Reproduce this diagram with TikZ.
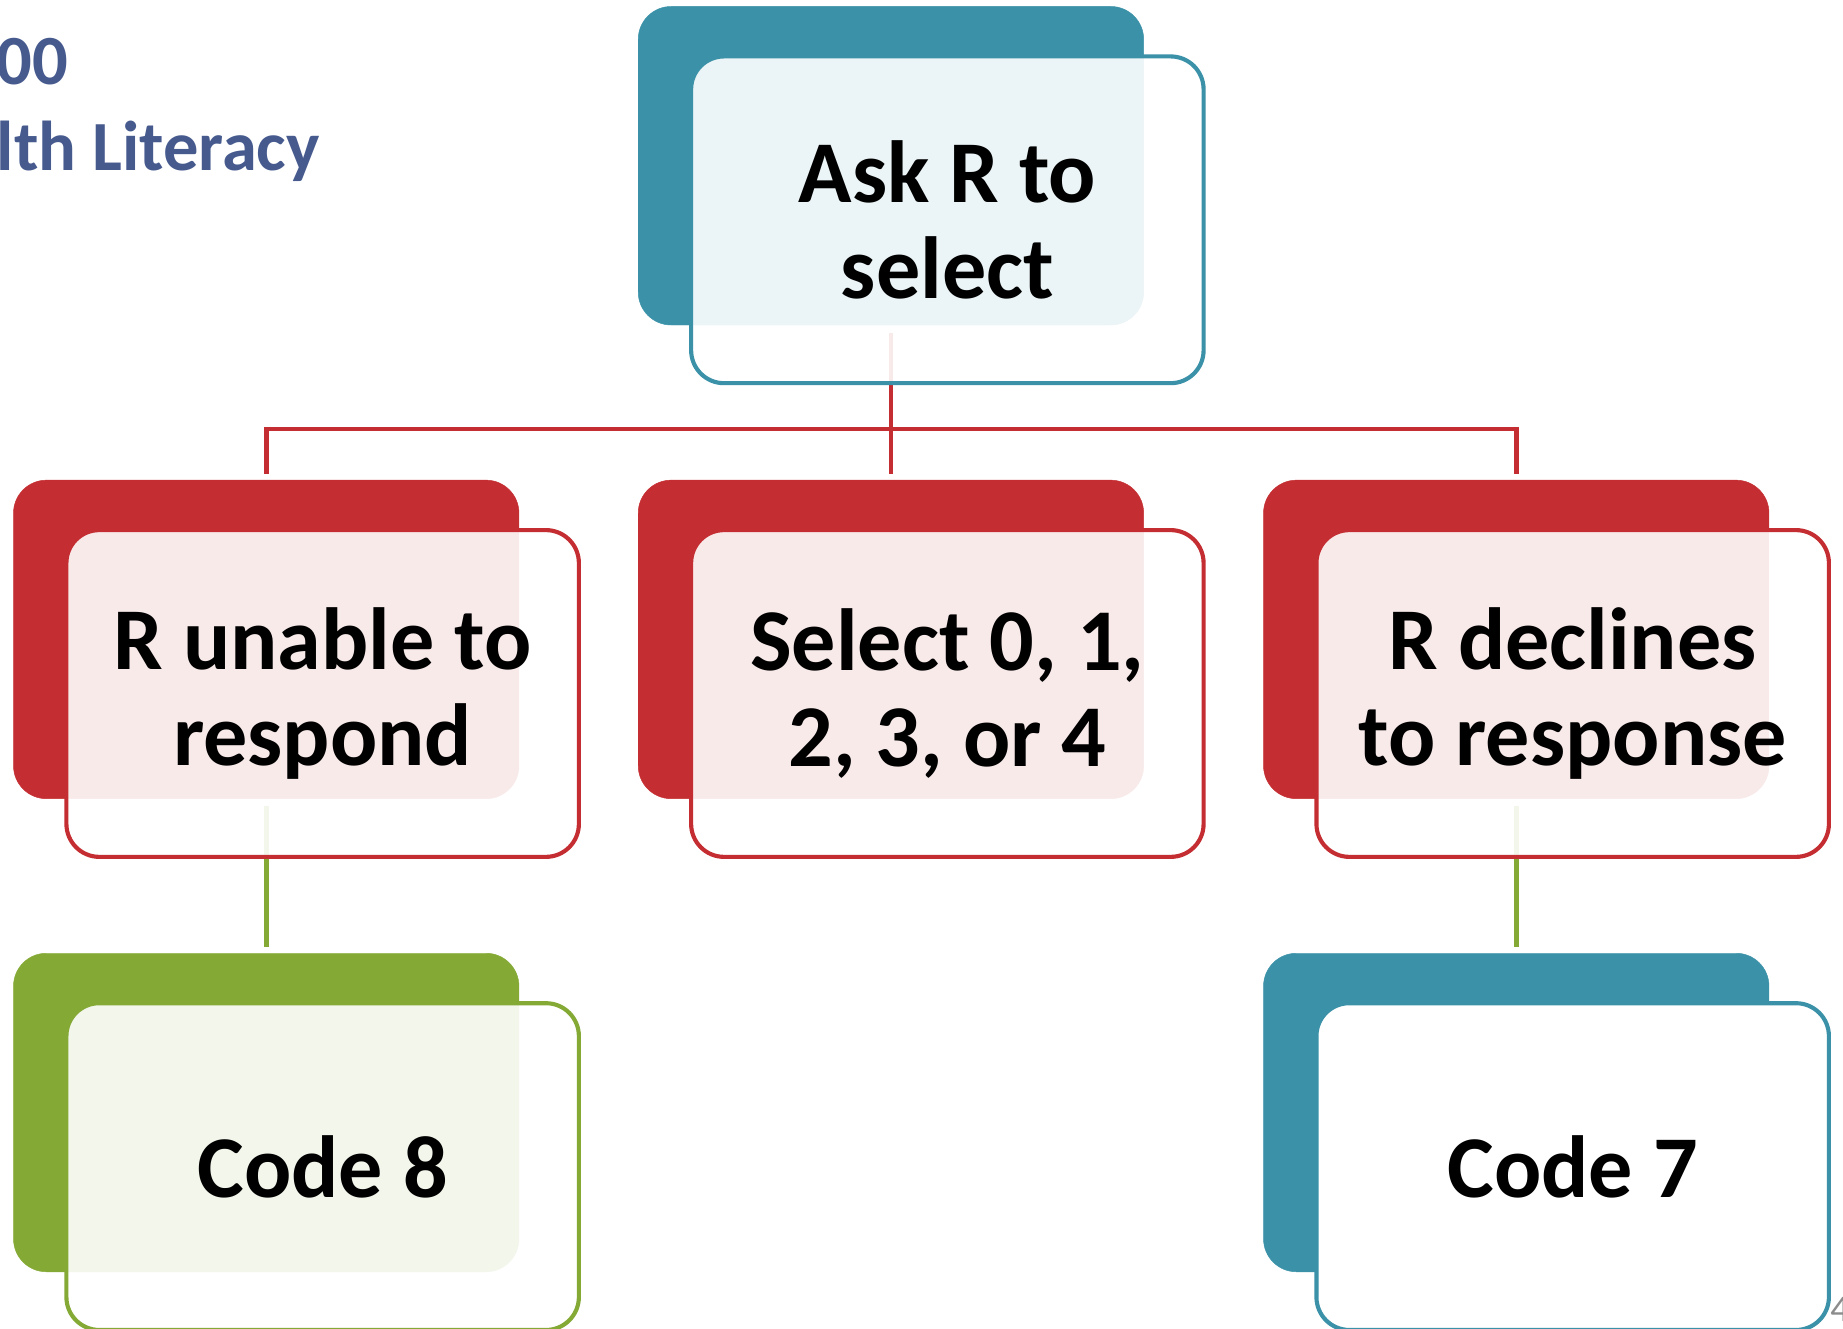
\documentclass[tikz,border=0pt]{standalone}
\usepackage{fontspec}
\setmainfont{Carlito}
\usetikzlibrary{positioning}

\definecolor{boxteal}{HTML}{3A91A8}
\definecolor{boxred}{HTML}{C42D31}
\definecolor{boxgreen}{HTML}{84A935}
\definecolor{titleblue}{HTML}{465A8E}
\definecolor{pagegray}{HTML}{8C8C8C}

\tikzset{
  backbox/.style={rounded corners=28pt,fill=#1,draw=#1,minimum width=430pt,minimum height=271pt,inner sep=0pt},
  frontbox/.style={rounded corners=28pt,draw=#1,line width=3.5pt,fill=white,fill opacity=0.9,text opacity=1,
    minimum width=436pt,minimum height=278pt,inner sep=0pt,align=center,font=\fontsize{75}{82}\selectfont\bfseries},
  link/.style={draw=#1,line width=4pt},
  titletext/.style={anchor=base west,inner sep=0pt,text=titleblue,font=\fontsize{60}{70}\selectfont\bfseries}
}

\begin{document}
\begin{tikzpicture}[x=1pt,y=-1pt]%[line cap=round,line join=round]
\useasboundingbox (0,0) rectangle (1568,1130);
\node[titletext] (year) at (-3,72) {00};
\node[titletext] (topic) at (-3,145) {lth Literacy};
\node[anchor=base west,inner sep=0pt,text=pagegray,font=\fontsize{32}{36}\selectfont] (page) at (1557,1124) {4};
% back boxes
\node[backbox=boxteal] (askback) at (758,141) {};
\node[backbox=boxred] (unableback) at (226.5,544) {};
\node[backbox=boxred] (selectback) at (758,544) {};
\node[backbox=boxred] (declineback) at (1290,544) {};
\node[backbox=boxgreen] (eightback) at (226.5,946.5) {};
\node[backbox=boxteal] (sevenback) at (1290,946.5) {};
% connectors
\coordinate (bus) at (0,365);
\draw[link=boxred] ([yshift=-7pt]askback.south) -- (askback.south |- bus) -| ([yshift=5pt]unableback.north);
\draw[link=boxred] ([yshift=-7pt]askback.south) -- ([yshift=5pt]selectback.north);
\draw[link=boxred] (askback.south |- bus) -| ([yshift=5pt]declineback.north);
\draw[link=boxgreen] ([yshift=-6pt]unableback.south) -- ([yshift=5pt]eightback.north);
\draw[link=boxgreen] ([yshift=-6pt]declineback.south) -- ([yshift=5pt]sevenback.north);
% front boxes
\node[frontbox=boxteal] (ask) at ([xshift=48pt,yshift=-46pt]askback.center) {Ask R to\\select};
\node[frontbox=boxred] (unable) at ([xshift=48pt,yshift=-46pt]unableback.center) {R unable to\\respond};
\node[frontbox=boxred] (select) at ([xshift=48pt,yshift=-46pt]selectback.center) {Select 0, 1,\\2, 3, or 4};
\node[frontbox=boxred] (decline) at ([xshift=48pt,yshift=-46pt]declineback.center) {R declines\\to response};
\node[frontbox=boxgreen] (eight) at ([xshift=48pt,yshift=-46pt]eightback.center) {Code 8};
\node[frontbox=boxteal,fill opacity=1] (seven) at ([xshift=48pt,yshift=-46pt]sevenback.center) {Code 7};
\end{tikzpicture}
\end{document}
